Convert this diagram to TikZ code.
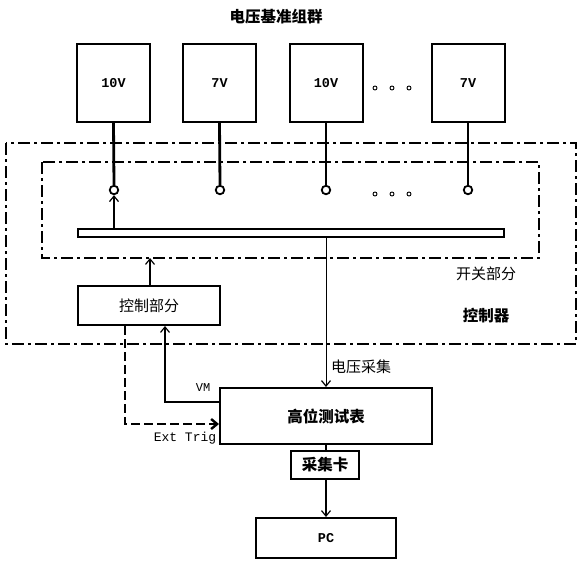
\documentclass[tikz,border=0pt]{standalone}
\usepackage{fontspec}
\setmainfont{Liberation Mono}
\newfontfamily\cjk{Noto Sans CJK SC}
\usetikzlibrary{arrows.meta}
\tikzset{
  box/.style={draw,line width=2pt,inner sep=0pt,minimum width=#1},
  vref/.style={box=73pt,minimum height=78pt,font=\bfseries\fontsize{13.5}{13.5}\selectfont},
  thk/.style={line width=2.8pt},
  thin/.style={line width=1pt},
  arr/.style={thin,-{Straight Barb[length=5.5pt,width=9pt,line width=1.2pt]}},
  dashdot/.style={line width=2pt,dash pattern=on 12pt off 4pt on 3pt off 4pt},
  hole/.style={circle,draw,line width=1.8pt,minimum size=8.5pt,inner sep=0pt},
  dot/.style={circle,draw,line width=0.9pt,minimum size=4pt,inner sep=0pt},
  cn/.style={font=\cjk\fontsize{15}{15}\selectfont},
  cnb/.style={font=\cjk\bfseries\fontsize{15.5}{15.5}\selectfont},
}
\begin{document}
\begin{tikzpicture}[x=1pt,y=-1pt]
\useasboundingbox[fill=white] (0,0) rectangle (582,566);
\node[cnb] (title) at (276,17) {电压基准组群};
\node[vref] (b1) at (113.5,83) {10V};
\node[vref] (b2) at (219.5,83) {7V};
\node[vref] (b3) at (326,83) {10V};
\node[vref] (b4) at (468,83) {7V};
\node[dot] (d1) at (375,88) {}; \node[dot] (d2) at (392,88) {}; \node[dot] (d3) at (409,88) {};
\draw[dashdot] (6,143) rectangle (576,344);
\draw[dashdot] (42,162) rectangle (539,258);
\node[hole] (c1) at (114,190) {};
\node[hole] (c2) at (220,190) {};
\node[hole] (c3) at (326,190) {};
\node[hole] (c4) at (468,190) {};
\node[dot] (e1) at (375,194) {}; \node[dot] (e2) at (392,194) {}; \node[dot] (e3) at (409,194) {};
\draw[thk] (b1.south) -- (c1.north);
\draw[thk] (b2.south) -- (c2.north);
\draw[thk] (b3.south) -- (c3.north);
\draw[thk] (b4.south) -- (c4.north);
\node[draw,line width=1.6pt,minimum width=426pt,minimum height=8pt,inner sep=0pt] (bar) at (291,233) {};
\draw[arr,line width=1.5pt] (bar.north -| c1) -- (c1.south);
\node[box=142pt,minimum height=39pt,cn] (ctrl) at (149,305.5) {控制部分};
\coordinate (inb) at (150,258);
\draw[arr,line width=1.5pt] (ctrl.north -| inb) -- (inb);
\node[cn] (kg) at (486,274) {开关部分};
\node[cnb] (kzq) at (486,316) {控制器};
\node[box=212pt,minimum height=56pt,cnb] (meter) at (326,416) {高位测试表};
\draw[arr] (bar.south -| meter) -- (meter.north);
\node[cn,anchor=west,inner sep=0pt] (vc) at (331,367) {电压采集};
\coordinate (vm) at (165,402);
\draw[arr,line width=1.5pt] (meter.west |- vm) -- (vm) -- (vm |- ctrl.south);
\node[font=\fontsize{12}{12}\selectfont] (vml) at (203,388) {VM};
\coordinate (et) at (125,424);
\draw[line width=2.6pt,dash pattern=on 9pt off 4pt,-{Straight Barb[length=6pt,width=10pt,line width=2.4pt]}] (ctrl.south -| et) -- (et) -- (meter.west |- et);
\node[font=\fontsize{13}{13}\selectfont] (etl) at (185,438) {Ext Trig};
\node[box=68pt,minimum height=28pt,cnb] (card) at (325,465) {采集卡};
\draw[line width=1.6pt] (meter.south) -- (card.north -| meter);
\node[box=140pt,minimum height=40pt,font=\bfseries\fontsize{13.5}{13.5}\selectfont] (pc) at (326,538) {PC};
\draw[arr,line width=1.5pt] (card.south -| pc) -- (pc.north);
\end{tikzpicture}
\end{document}
